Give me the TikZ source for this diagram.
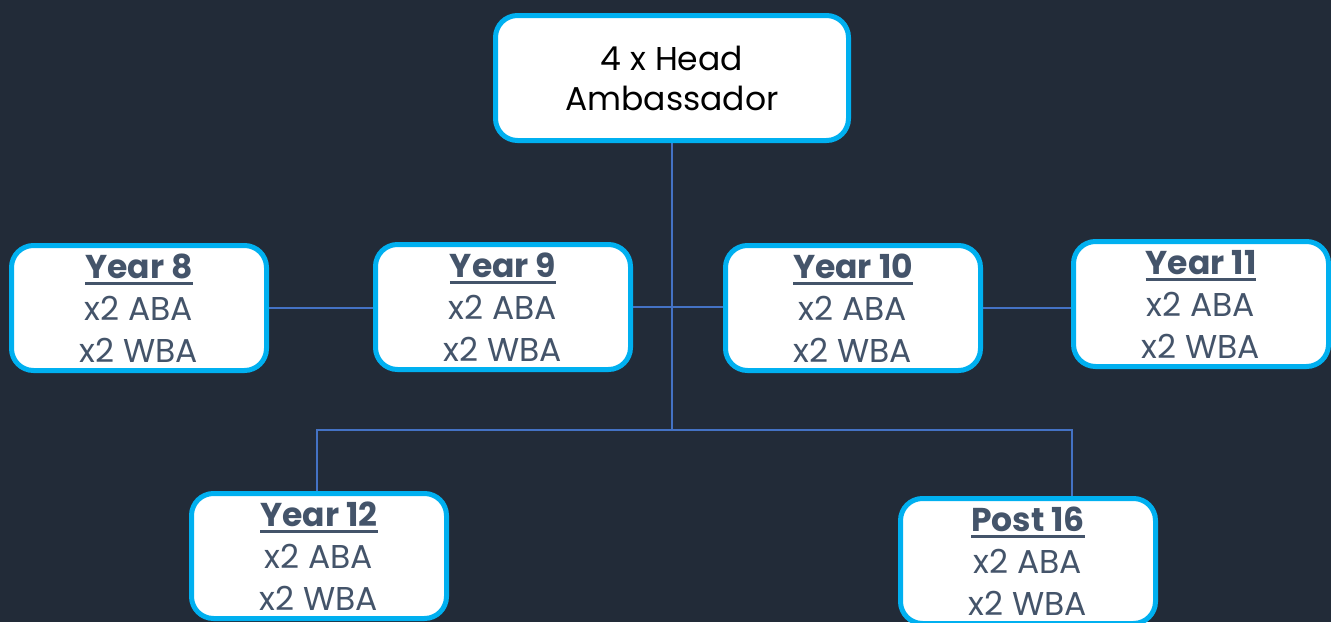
\documentclass[tikz,border=0pt]{standalone}
\usepackage{fontspec}
\setmainfont{Poppins}
\usetikzlibrary{backgrounds}

\definecolor{slate}{HTML}{222B38}
\definecolor{cyanline}{HTML}{00B0F0}
\definecolor{bluelink}{HTML}{4472C4}
\definecolor{greytext}{HTML}{44546A}

% bold title with a heavy rule under it
\newcommand{\yearhead}[1]{\setbox0\hbox{\textbf{#1}}%
	\rlap{\copy0}\rule[-7pt]{\wd0}{3pt}}

\tikzset{
	basic/.style  = {draw=cyanline, line width=5pt, fill=white, rectangle,
		rounded corners=22pt, align=center, inner sep=0pt,
		minimum width=255pt, minimum height=125pt},
	root/.style   = {basic, minimum width=353pt, text=black,
		font=\fontsize{33}{40}\selectfont},
	year/.style   = {basic, text=greytext, font=\fontsize{33}{42}\selectfont},
	link/.style   = {draw=bluelink, line width=1.5pt}
}

\begin{document}
\begin{tikzpicture}[x=1pt, y=-1pt]

\useasboundingbox (0,0) rectangle (1331,622);
\clip (0,0) rectangle (1331,622);

% head of the team
\node[root] (c0) at (672,78) {4 x Head\\Ambassador};

% middle row
\node[year] (c1) at (139,308) {\yearhead{Year 8}\\x2 ABA\\x2 WBA};
\node[year] (c2) at (503,307) {\yearhead{Year 9}\\x2 ABA\\x2 WBA};
\node[year] (c3) at (853,308) {\yearhead{Year 10}\\x2 ABA\\x2 WBA};
\node[year] (c4) at (1201,304) {\yearhead{Year 11}\\x2 ABA\\x2 WBA};

% bottom row
\node[year] (c5) at (319,556) {\yearhead{Year 12}\\x2 ABA\\x2 WBA};
\node[year] (c6) at (1028,561) {\yearhead{Post 16}\\x2 ABA\\x2 WBA};

\coordinate (j) at (672,430);

\begin{scope}[on background layer]
\fill[slate] (0,0) rectangle (1331,622);
\draw[link] (c0.south) -- (j);
\draw[link] (c1.east) -- (c1.east -| c2.west);
\draw[link] (c2.east) -- (c2.east -| c3.west);
\draw[link] (c3.east) -- (c3.east -| c4.west);
\draw[link] ([xshift=-2pt]c5.north) |- (j) -| ([xshift=44pt]c6.north);
\end{scope}

\end{tikzpicture}
\end{document}
